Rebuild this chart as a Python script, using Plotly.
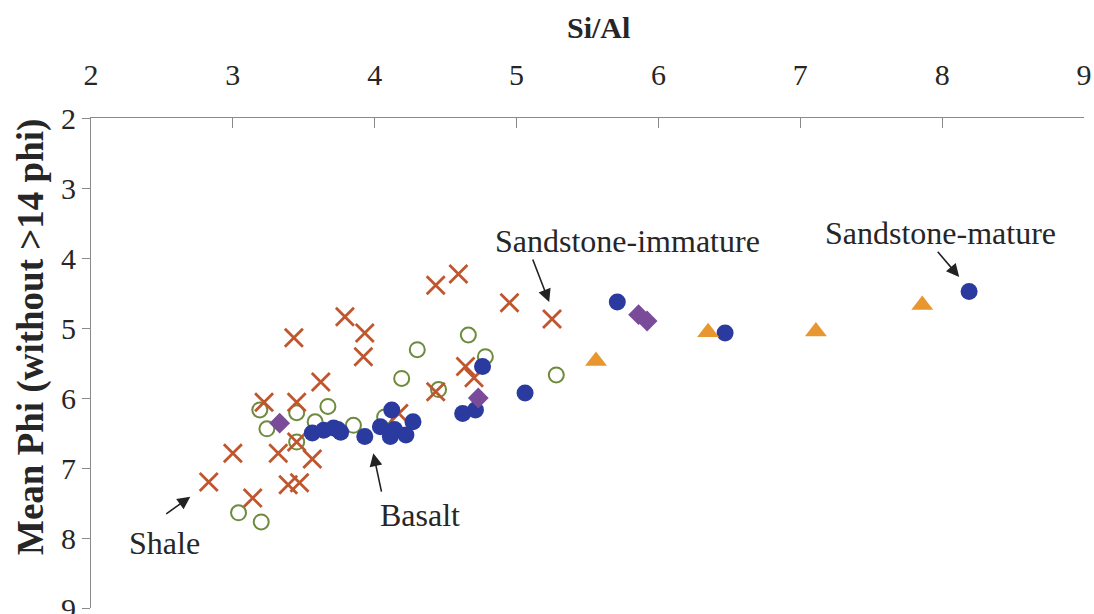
import plotly.graph_objects as go

# ---- data ----
shale_x = [2.83, 3.00, 3.14, 3.22, 3.32, 3.39, 3.47, 3.43, 3.45, 3.45, 3.56, 3.62,
           3.79, 3.93, 3.92, 4.43, 4.59, 4.64, 4.70, 4.43, 4.95, 5.25, 4.17]
shale_y = [7.20, 6.79, 7.43, 6.06, 6.79, 7.24, 7.21, 5.14, 6.06, 6.63, 6.87, 5.77,
           4.84, 5.07, 5.41, 4.39, 4.23, 5.55, 5.71, 5.91, 4.64, 4.87, 6.22]

open_x = [3.19, 3.24, 3.45, 3.67, 3.45, 3.58, 3.85, 4.07, 4.19, 4.30, 4.45, 4.66,
          4.78, 5.28, 3.04, 3.20]
open_y = [6.17, 6.44, 6.21, 6.12, 6.63, 6.34, 6.39, 6.27, 5.72, 5.31, 5.88, 5.10,
          5.41, 5.67, 7.64, 7.77]

basalt_x = [3.56, 3.64, 3.71, 3.76, 3.74, 3.93, 4.04, 4.12, 4.11, 4.14, 4.22, 4.27,
            4.62, 4.71, 4.76, 5.06, 5.71, 6.47, 8.19]
basalt_y = [6.50, 6.46, 6.43, 6.49, 6.45, 6.55, 6.41, 6.17, 6.55, 6.45, 6.53, 6.34,
            6.22, 6.17, 5.55, 5.93, 4.63, 5.07, 4.48]

diamond_x = [3.33, 4.73, 5.86, 5.92]
diamond_y = [6.36, 6.00, 4.81, 4.90]

tri_x = [5.56, 6.35, 7.11, 7.86]
tri_y = [5.47, 5.06, 5.05, 4.67]

x_ticks = [2, 3, 4, 5, 6, 7, 8, 9]
y_ticks = [2, 3, 4, 5, 6, 7, 8, 9]

FONT = "Liberation Serif, Times New Roman, serif"
TXT = "#262626"

fig = go.Figure()
fig.add_trace(go.Scatter(x=open_x, y=open_y, mode="markers", name="open",
                         marker=dict(symbol="circle-open", size=15, color="#6E8B3D",
                                     line=dict(width=2, color="#6E8B3D"))))
fig.add_trace(go.Scatter(x=shale_x, y=shale_y, mode="markers", name="shale",
                         marker=dict(symbol="x-thin", size=18, color="#C0562E",
                                     line=dict(width=2.8, color="#C0562E"))))
fig.add_trace(go.Scatter(x=basalt_x, y=basalt_y, mode="markers", name="basalt",
                         marker=dict(symbol="circle", size=17, color="#2A3A9E")))
fig.add_trace(go.Scatter(x=diamond_x, y=diamond_y, mode="markers", name="diamond",
                         marker=dict(symbol="diamond", size=16, color="#7A4B98")))
fig.add_trace(go.Scatter(x=tri_x, y=tri_y, mode="markers", name="triangle",
                         marker=dict(symbol="triangle-up", size=19, color="#E8962F")))

# annotations: labels and arrows
labels = [
    ("Shale", 2.52, 8.07, 2.52, 7.67, 2.70, 7.41),
    ("Basalt", 4.32, 7.67, 4.05, 7.36, 3.99, 6.79),
    ("Sandstone-immature", 5.78, 3.76, 5.11, 4.00, 5.23, 4.63),
    ("Sandstone-mature", 7.99, 3.64, 7.96, 3.89, 8.12, 4.27),
]
for text, tx, ty, ax_, ay_, hx, hy in labels:
    fig.add_annotation(x=tx, y=ty, text=text, showarrow=False,
                       font=dict(family=FONT, size=32, color=TXT))
    fig.add_annotation(x=hx, y=hy, ax=ax_, ay=ay_, axref="x", ayref="y", text="",
                       showarrow=True, arrowhead=2, arrowsize=1.6, arrowwidth=1.6,
                       arrowcolor="#222222", standoff=0, startstandoff=0)

# axis titles
fig.add_annotation(xref="paper", yref="paper", x=(598 - 91) / 993, y=1 + (118 - 27) / 490,
                   text="<b>Si/Al</b>", showarrow=False, xanchor="center", yanchor="middle",
                   font=dict(family=FONT, size=30, color=TXT))
fig.add_annotation(xref="paper", yref="paper", x=(31 - 91) / 993, y=(608 - 337) / 490,
                   text="<b>Mean Phi (without >14 phi)</b>", showarrow=False, textangle=-90,
                   xanchor="center", yanchor="middle",
                   font=dict(family=FONT, size=37, color=TXT))

fig.update_layout(
    width=1094, height=614,
    margin=dict(l=91, r=10, t=118, b=6),
    paper_bgcolor="white", plot_bgcolor="white",
    showlegend=False,
    font=dict(family=FONT, color=TXT),
    xaxis=dict(range=[2, 9], side="top", tickvals=x_ticks, showgrid=False, zeroline=False,
               showline=True, linecolor="#8a8a8a", linewidth=1.2,
               ticks="inside", ticklen=10, tickcolor="#8a8a8a",
               tickfont=dict(family=FONT, size=30, color=TXT), ticklabelstandoff=20,
               ticklabeloverflow="allow", automargin=False),
    yaxis=dict(range=[9, 2], tickvals=y_ticks, showgrid=False, zeroline=False,
               showline=True, linecolor="#8a8a8a", linewidth=1.2,
               ticks="outside", ticklen=8, tickcolor="#8a8a8a",
               tickfont=dict(family=FONT, size=30, color=TXT),
               ticklabeloverflow="allow", automargin=False),
)

fig.write_html("out.html")
